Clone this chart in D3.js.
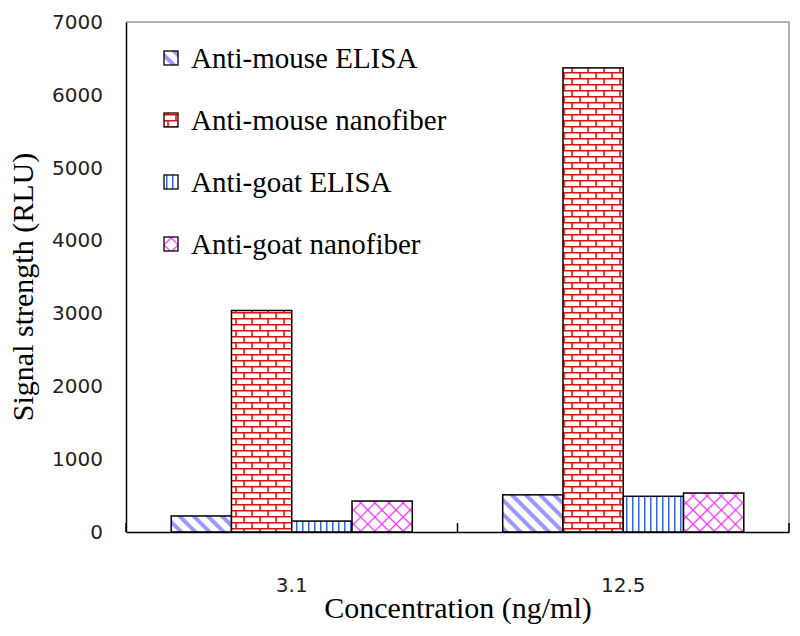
<!DOCTYPE html>
<meta charset="utf-8">
<style>
body { margin: 0; background: #fff; }
.tick-label { font: 20px "DejaVu Sans", Verdana, sans-serif; fill: #222; }
.title { font: 30px "Liberation Serif", "Times New Roman", serif; fill: #000; }
.legend text { font: 29px "Liberation Serif", "Times New Roman", serif; fill: #000; }
</style>
<body>
<script src="https://d3js.org/d3.v7.min.js"></script>
<script>
// data
var categories = ["3.1", "12.5"];
var seriesNames = ["Anti-mouse ELISA", "Anti-mouse nanofiber", "Anti-goat ELISA", "Anti-goat nanofiber"];
var antiMouseElisa = [220, 510];
var antiMouseNano = [3040, 6370];
var antiGoatElisa = [150, 490];
var antiGoatNano = [425, 535];
var yTicks = [0, 1000, 2000, 3000, 4000, 5000, 6000, 7000];

var series = [antiMouseElisa, antiMouseNano, antiGoatElisa, antiGoatNano];
var patternIds = ["diag", "brick", "vert", "cross"];

var width = 800, height = 636;
var plot = {left: 126, right: 789, top: 22, bottom: 532};

var svg = d3.select("body").append("svg")
    .attr("width", width)
    .attr("height", height);

// hatch patterns
var defs = svg.append("defs");

var p = defs.append("pattern").attr("id", "diag")
    .attr("patternUnits", "userSpaceOnUse")
    .attr("width", 10).attr("height", 10)
    .attr("patternTransform", "rotate(-45)");
p.append("rect").attr("width", 10).attr("height", 10).attr("fill", "#fff");
p.append("rect").attr("x", 0).attr("width", 4).attr("height", 10).attr("fill", "#9999ff");

p = defs.append("pattern").attr("id", "brick")
    .attr("patternUnits", "userSpaceOnUse")
    .attr("width", 16).attr("height", 12);
p.append("rect").attr("width", 16).attr("height", 12).attr("fill", "#fff");
p.append("path")
    .attr("d", "M0,0.75H16M0,6.75H16M4,0V6M12,6V12")
    .attr("stroke", "#ff0000").attr("stroke-width", 1.5).attr("fill", "none");

p = defs.append("pattern").attr("id", "vert")
    .attr("patternUnits", "userSpaceOnUse")
    .attr("width", 6).attr("height", 6);
p.append("rect").attr("width", 6).attr("height", 6).attr("fill", "#fff");
p.append("rect").attr("x", 2).attr("width", 1.5).attr("height", 6).attr("fill", "#3366ee");

p = defs.append("pattern").attr("id", "cross")
    .attr("patternUnits", "userSpaceOnUse")
    .attr("width", 10).attr("height", 10)
    .attr("patternTransform", "rotate(45)");
p.append("rect").attr("width", 10).attr("height", 10).attr("fill", "#fff");
p.append("path").attr("d", "M0,0.6H10M0.6,0V10")
    .attr("stroke", "#ff33ff").attr("stroke-width", 1.3);

// scales
var x0 = d3.scaleBand()
    .domain(categories)
    .range([plot.left, plot.right]);

var x1 = d3.scaleBand()
    .domain(d3.range(series.length))
    .range([0, x0.bandwidth()])
    .paddingOuter(0.75);

var y = d3.scaleLinear()
    .domain([0, 7000])
    .range([plot.bottom, plot.top]);

// frame
svg.append("path")
    .attr("d", "M" + plot.left + "," + plot.top + "H" + plot.right + "V" + plot.bottom)
    .attr("fill", "none").attr("stroke", "#999").attr("stroke-width", 1.5);

// bars
series.forEach(function(vals, si) {
  svg.append("g").selectAll("rect")
    .data(vals)
    .enter().append("rect")
      .attr("x", function(d, i) { return x0(categories[i]) + x1(si); })
      .attr("y", function(d) { return y(d); })
      .attr("width", x1.bandwidth())
      .attr("height", function(d) { return y(0) - y(d); })
      .attr("fill", "url(#" + patternIds[si] + ")")
      .attr("stroke", "#000")
      .attr("stroke-width", 1.5);
});

// y axis
var yAxis = svg.append("g")
    .attr("transform", "translate(" + plot.left + ",0)")
    .call(d3.axisLeft(y).tickValues(yTicks).tickFormat(d3.format("d")).tickSize(0).tickPadding(23));
yAxis.select(".domain").attr("stroke", "#000").attr("stroke-width", 1.5);
yAxis.selectAll("text").attr("class", "tick-label").attr("font-size", null).attr("font-family", null);

// x axis
var xAxis = svg.append("g")
    .attr("transform", "translate(0," + plot.bottom + ")")
    .call(d3.axisBottom(x0).tickSize(0).tickPadding(46));
xAxis.select(".domain").attr("stroke", "#000").attr("stroke-width", 1.5);
xAxis.selectAll("text").attr("class", "tick-label").attr("font-size", null).attr("font-family", null);

// category separators (inner ticks)
svg.append("g").selectAll("line")
    .data(categories.concat(["end"]))
    .enter().append("line")
      .attr("x1", function(d, i) { return plot.left + i * x0.step(); })
      .attr("x2", function(d, i) { return plot.left + i * x0.step(); })
      .attr("y1", plot.bottom)
      .attr("y2", plot.bottom - 9)
      .attr("stroke", "#000").attr("stroke-width", 1.5);

// titles
svg.append("text")
    .attr("class", "title")
    .attr("x", 458)
    .attr("y", 618)
    .attr("text-anchor", "middle")
    .text("Concentration (ng/ml)");

svg.append("text")
    .attr("class", "title")
    .attr("transform", "translate(33," + 287 + ") rotate(-90)")
    .attr("text-anchor", "middle")
    .text("Signal strength (RLU)");

// legend
var legend = svg.append("g").attr("class", "legend")
    .selectAll("g")
    .data(seriesNames)
    .enter().append("g")
      .attr("transform", function(d, i) { return "translate(164," + (58 + i * 62) + ")"; });

legend.append("rect")
    .attr("x", 0).attr("y", -7)
    .attr("width", 14).attr("height", 14)
    .attr("fill", function(d, i) { return "url(#" + patternIds[i] + ")"; })
    .attr("stroke", "#000").attr("stroke-width", 1.3);

legend.append("text")
    .attr("x", 27)
    .attr("dy", "0.35em")
    .text(function(d) { return d; });
</script>
</body>
